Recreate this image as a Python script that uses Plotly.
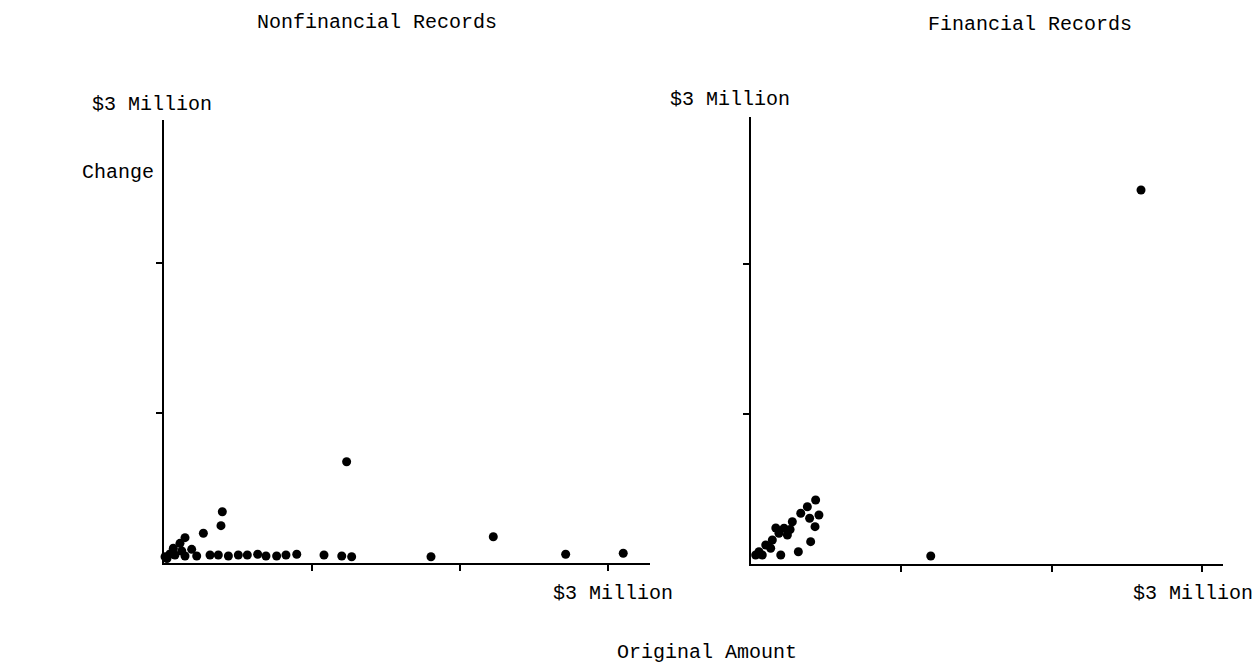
import plotly.graph_objects as go

# Nonfinancial records: original amount vs change, in $ millions
nonfin_original = [0.007, 0.02, 0.04, 0.063, 0.108, 0.142, 0.187, 0.12, 0.266, 0.385, 0.394, 1.234,
                   0.074, 0.142, 0.221, 0.311, 0.367, 0.435, 0.502, 0.563, 0.633, 0.689, 0.761,
                   0.824, 0.897, 1.081, 1.201, 1.268, 1.804, 2.225, 2.714, 3.103]
nonfin_change = [0.042, 0.03, 0.06, 0.098, 0.131, 0.169, 0.091, 0.08, 0.198, 0.249, 0.342, 0.675,
                 0.053, 0.047, 0.047, 0.053, 0.053, 0.047, 0.053, 0.053, 0.058, 0.047, 0.047,
                 0.053, 0.058, 0.053, 0.047, 0.042, 0.042, 0.175, 0.058, 0.065]

# Financial records: original amount vs change, in $ millions
fin_original = [0.430, 0.375, 0.452, 0.331, 0.390, 0.275, 0.426, 0.220, 0.186, 0.242, 0.397,
                0.142, 0.098, 0.131, 0.198, 0.315, 0.053, 0.031, 0.075, 0.26, 0.165, 1.196, 2.595]
fin_change = [0.427, 0.382, 0.327, 0.338, 0.305, 0.282, 0.249, 0.238, 0.205, 0.193, 0.149,
              0.160, 0.127, 0.105, 0.060, 0.082, 0.082, 0.060, 0.060, 0.23, 0.24, 0.053, 2.493]

tick_x = [1, 2, 3]
tick_y = [1, 2]

W, H = 1259, 666
FONT = dict(family="Liberation Mono, Courier New, monospace", size=20, color="black")


def px_x(p):
    return p / W


def px_y(p):
    return 1 - p / H


fig = go.Figure()
marker = dict(color="black", size=9, line=dict(width=0))
fig.add_trace(go.Scatter(x=nonfin_original, y=nonfin_change, mode="markers", marker=marker,
                         xaxis="x", yaxis="y", cliponaxis=False, showlegend=False))
fig.add_trace(go.Scatter(x=fin_original, y=fin_change, mode="markers", marker=marker,
                         xaxis="x2", yaxis="y2", cliponaxis=False, showlegend=False))

axis_style = dict(showline=True, linecolor="black", linewidth=2, ticks="outside", ticklen=6,
                  tickwidth=2, tickcolor="black", showticklabels=False, showgrid=False,
                  zeroline=False, fixedrange=True)

fig.update_layout(
    width=W, height=H,
    margin=dict(l=0, r=0, t=0, b=0),
    paper_bgcolor="white", plot_bgcolor="white",
    xaxis=dict(domain=[px_x(164), px_x(650)], range=[0, (650 - 164) / 148],
               tickvals=tick_x, anchor="y", **axis_style),
    yaxis=dict(domain=[px_y(563), px_y(120)], range=[0, (563 - 120) / 150],
               tickvals=tick_y, anchor="x", **axis_style),
    xaxis2=dict(domain=[px_x(751), px_x(1223)], range=[0, (1223 - 751) / 150.3],
                tickvals=tick_x, anchor="y2", **axis_style),
    yaxis2=dict(domain=[px_y(564), px_y(117)], range=[0, (564 - 117) / 150],
                tickvals=tick_y, anchor="x2", **axis_style),
)

labels = [
    ("Nonfinancial Records", 377, 22),
    ("Financial Records", 1030, 25),
    ("$3 Million", 152, 105),
    ("$3 Million", 730, 100),
    ("Change", 118, 173),
    ("$3 Million", 613, 593),
    ("$3 Million", 1193, 593),
    ("Original Amount", 707, 652),
]
for text, cx, cy in labels:
    fig.add_annotation(text=text, x=px_x(cx), y=px_y(cy), xref="paper", yref="paper",
                       xanchor="center", yanchor="middle", showarrow=False, font=FONT)

fig.write_html("out.html")
